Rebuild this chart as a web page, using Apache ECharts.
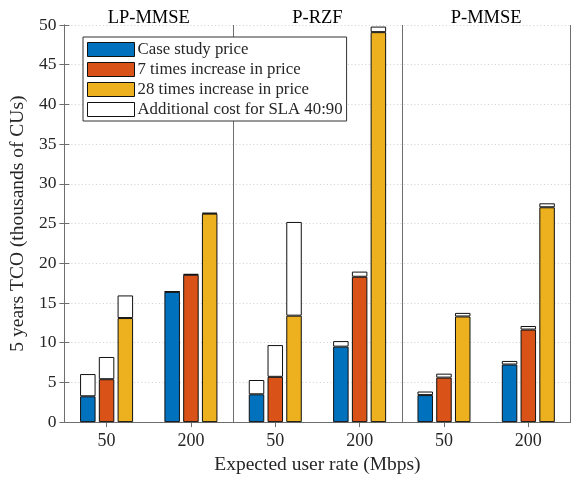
<!DOCTYPE html>
<html>
<head>
<meta charset="utf-8">
<script src="https://cdn.jsdelivr.net/npm/echarts@6/dist/echarts.min.js"></script>
<style>
  html, body { margin: 0; padding: 0; background: #fff; }
  #chart { width: 574px; height: 480px; }
</style>
</head>
<body>
<div id="chart"></div>
<script>
// Expected user rate per precoder group
const rateLabels = ['50', '200', '50', '200', '50', '200'];
const groupNames = ['LP-MMSE', 'P-RZF', 'P-MMSE'];
const yTicks = [0, 50, 5];

// 5-year TCO (thousands of CUs) for each price scenario
const casePrice = [3.25, 16.4, 3.5, 9.5, 3.4, 7.25];
const price7x = [5.4, 18.55, 5.7, 18.3, 5.6, 11.65];
const price28x = [13.1, 26.25, 13.4, 49.1, 13.3, 27.05];

// Extra cost on top of each bar for SLA 40:90
const slaCase = [2.8, 0.05, 1.8, 0.7, 0.45, 0.45];
const sla7x = [2.8, 0.1, 4.0, 0.65, 0.5, 0.45];
const sla28x = [2.85, 0.1, 11.8, 0.7, 0.45, 0.5];

const seriesNames = ['Case study price', '7 times increase in price',
  '28 times increase in price', 'Additional cost for SLA 40:90'];
const colors = ['#0072BD', '#D95319', '#EDB120', '#FFFFFF'];

const FONT = "'Liberation Serif', 'DejaVu Serif', serif";
const TEXT = '#262626';
const LINE = '#6e6e6e';

function baseBar(name, data, stack, color) {
  return {
    name: name, type: 'bar', data: data, stack: stack,
    xAxisIndex: 0, yAxisIndex: 0,
    barWidth: 15.5, barGap: '21%',
    itemStyle: { color: color, borderColor: '#111', borderWidth: 1 },
    emphasis: { disabled: true }
  };
}

const chart = echarts.init(document.getElementById('chart'), null, { renderer: 'canvas' });
chart.setOption({
  animation: false,
  textStyle: { fontFamily: FONT, color: TEXT },
  grid: { left: 63.5, right: 3.5, top: 25, bottom: 55, containLabel: false },
  legend: {
    orient: 'vertical', left: 83, top: 37,
    data: seriesNames,
    icon: 'rect', itemWidth: 47, itemHeight: 14, itemGap: 3,
    padding: [4, 4, 3, 4],
    backgroundColor: '#fff', borderColor: '#333', borderWidth: 1,
    itemStyle: { borderColor: '#111', borderWidth: 1 },
    textStyle: { fontFamily: FONT, fontSize: 16.8, color: TEXT, padding: [0, 0, 0, -2] }
  },
  xAxis: [
    {
      type: 'category', position: 'bottom', data: rateLabels,
      axisLine: { show: true, lineStyle: { color: LINE, width: 1 } },
      axisTick: { show: true, inside: true, alignWithLabel: true, length: 5, lineStyle: { color: LINE } },
      axisLabel: { fontFamily: FONT, fontSize: 18, color: TEXT, margin: 10 },
      name: 'Expected user rate (Mbps)', nameLocation: 'middle', nameGap: 30,
      nameTextStyle: { fontFamily: FONT, fontSize: 19.5, color: TEXT }
    },
    {
      type: 'category', position: 'top', data: rateLabels,
      axisLine: { show: true, lineStyle: { color: LINE, width: 1 } },
      axisTick: { show: true, inside: true, alignWithLabel: true, length: 5, lineStyle: { color: LINE } },
      axisLabel: { show: false }
    },
    {
      // vertical separators between precoder groups
      type: 'value', position: 'top', min: 0, max: 6, interval: 2,
      axisLine: { show: false }, axisTick: { show: false }, axisLabel: { show: false },
      splitLine: { show: true, lineStyle: { color: LINE, width: 1, type: 'solid' } }
    },
    {
      // group titles above each panel
      type: 'value', position: 'top', min: 0, max: 6, interval: 1,
      axisLine: { show: false }, axisTick: { show: false }, splitLine: { show: false },
      axisLabel: {
        show: true, fontFamily: FONT, fontSize: 18.5, color: '#000', margin: -3,
        formatter: function (v) { return v % 2 === 1 ? groupNames[(v - 1) / 2] : ''; }
      }
    }
  ],
  yAxis: [
    {
      type: 'value', position: 'left', min: yTicks[0], max: yTicks[1], interval: yTicks[2],
      axisLine: { show: true, lineStyle: { color: LINE, width: 1 } },
      axisTick: { show: true, inside: true, length: 5, lineStyle: { color: LINE } },
      axisLabel: { fontFamily: FONT, fontSize: 17.5, color: TEXT, margin: 8 },
      splitLine: { show: true, lineStyle: { color: '#cfcfcf', width: 1, type: [1, 2.5] } },
      name: '5 years TCO (thousands of CUs)', nameLocation: 'middle', nameGap: 25,
      nameTextStyle: { fontFamily: FONT, fontSize: 19.5, color: TEXT }
    },
    {
      type: 'value', position: 'right', min: yTicks[0], max: yTicks[1], interval: yTicks[2],
      axisLine: { show: true, lineStyle: { color: LINE, width: 1 } },
      axisTick: { show: true, inside: true, length: 5, lineStyle: { color: LINE } },
      axisLabel: { show: false }, splitLine: { show: false }
    }
  ],
  series: [
    baseBar(seriesNames[0], casePrice, 'case', colors[0]),
    baseBar(seriesNames[3], slaCase, 'case', colors[3]),
    baseBar(seriesNames[1], price7x, 'x7', colors[1]),
    baseBar(seriesNames[3], sla7x, 'x7', colors[3]),
    baseBar(seriesNames[2], price28x, 'x28', colors[2]),
    baseBar(seriesNames[3], sla28x, 'x28', colors[3])
  ]
});
</script>
</body>
</html>
